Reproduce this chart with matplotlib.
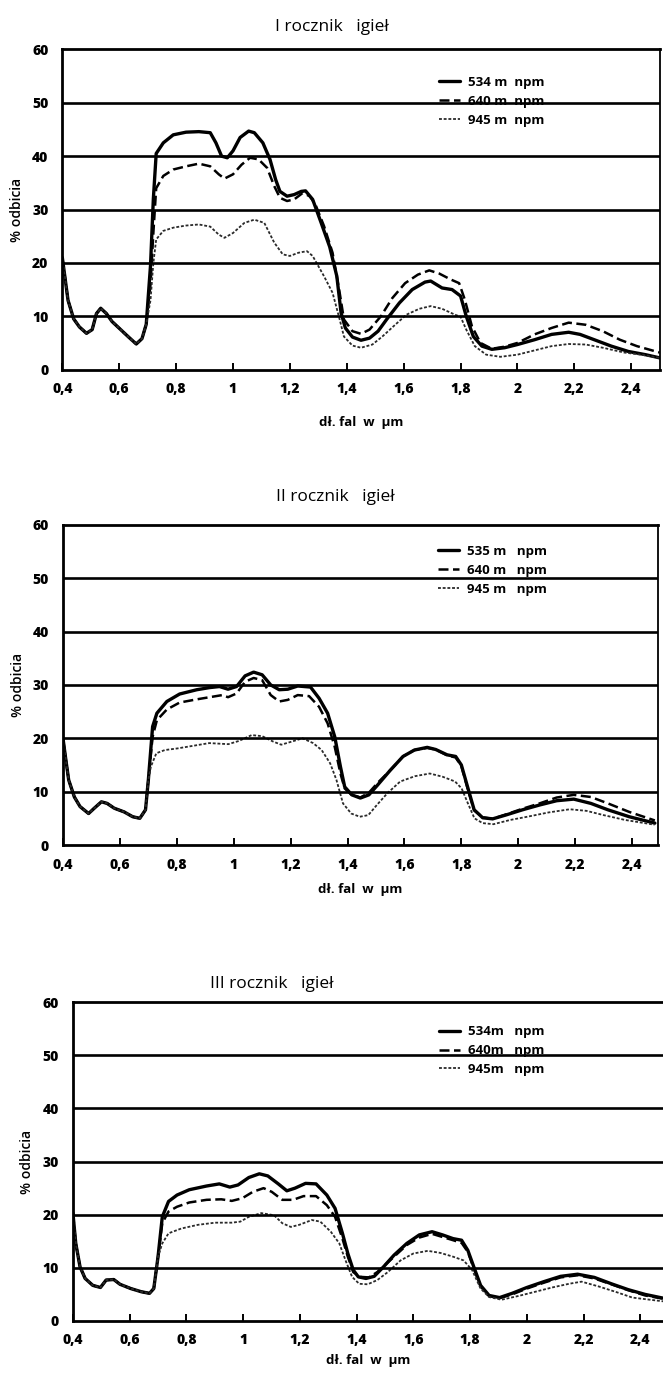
import numpy as np
import matplotlib.pyplot as plt

plt.rcParams['font.family'] = ['Open Sans', 'DejaVu Sans']

xticks = [0.4, 0.6, 0.8, 1.0, 1.2, 1.4, 1.6, 1.8, 2.0, 2.2, 2.4]
xticklabels = ['0,4', '0,6', '0,8', '1', '1,2', '1,4', '1,6', '1,8', '2', '2,2', '2,4']
yticks = [0, 10, 20, 30, 40, 50, 60]

# ---- I rocznik igiel ----
low1_w = [0.40, 0.42, 0.44, 0.46, 0.485, 0.505, 0.52, 0.535, 0.555, 0.575, 0.605, 0.635, 0.66, 0.68, 0.695]
low1_r = [21.0, 13.0, 9.5, 8.0, 6.8, 7.5, 10.5, 11.5, 10.5, 9.0, 7.5, 6.0, 4.8, 5.8, 8.5]

w1_534 = [0.71, 0.72, 0.73, 0.755, 0.79, 0.835, 0.88, 0.92, 0.94, 0.96, 0.98, 1.00, 1.025, 1.055,
          1.075, 1.105, 1.13, 1.15, 1.165, 1.19, 1.215, 1.24, 1.255, 1.28, 1.31, 1.34, 1.365, 1.38,
          1.395, 1.42, 1.45, 1.48, 1.51, 1.54, 1.585, 1.63, 1.675, 1.695, 1.735, 1.77, 1.80, 1.82,
          1.845, 1.875, 1.91, 1.955, 2.00, 2.06, 2.12, 2.18, 2.22, 2.27, 2.33, 2.39, 2.45, 2.50]
r1_534 = [19.5, 32.0, 40.5, 42.5, 44.0, 44.5, 44.6, 44.4, 42.5, 40.0, 39.7, 41.0, 43.5, 44.7,
          44.4, 42.5, 39.4, 35.6, 33.4, 32.5, 32.8, 33.4, 33.5, 31.9, 27.5, 23.0, 17.5, 10.6,
          7.8, 6.1, 5.5, 5.9, 7.2, 9.4, 12.5, 15.0, 16.4, 16.6, 15.3, 15.0, 13.8, 10.0,
          6.2, 4.4, 3.8, 4.1, 4.7, 5.6, 6.6, 7.0, 6.6, 5.6, 4.4, 3.4, 2.8, 2.2]

w1_640 = [0.71, 0.72, 0.73, 0.755, 0.79, 0.835, 0.88, 0.92, 0.95, 0.97, 1.00, 1.03, 1.06, 1.09,
          1.12, 1.145, 1.165, 1.19, 1.215, 1.245, 1.27, 1.29, 1.32, 1.35, 1.375, 1.39, 1.42, 1.45,
          1.48, 1.52, 1.56, 1.605, 1.65, 1.69, 1.725, 1.765, 1.795, 1.815, 1.84, 1.87, 1.91, 1.955,
          2.00, 2.06, 2.12, 2.18, 2.24, 2.30, 2.36, 2.42, 2.50]
r1_640 = [16.0, 25.6, 34.0, 36.3, 37.5, 38.1, 38.6, 38.1, 36.6, 35.8, 36.6, 38.4, 39.7, 39.4,
          37.8, 34.4, 32.2, 31.6, 31.9, 33.1, 32.5, 30.9, 26.9, 21.9, 14.4, 9.4, 7.2, 6.7,
          7.5, 10.0, 13.4, 16.2, 17.8, 18.6, 18.0, 16.9, 16.2, 13.1, 8.1, 5.0, 3.9, 4.3,
          5.0, 6.6, 7.8, 8.8, 8.4, 7.2, 5.6, 4.4, 3.2]

w1_945 = [0.71, 0.72, 0.73, 0.755, 0.79, 0.835, 0.88, 0.92, 0.95, 0.97, 1.00, 1.04, 1.075, 1.11,
          1.145, 1.175, 1.20, 1.23, 1.26, 1.28, 1.32, 1.35, 1.375, 1.39, 1.42, 1.45, 1.49, 1.525,
          1.57, 1.61, 1.655, 1.695, 1.735, 1.78, 1.80, 1.82, 1.85, 1.89, 1.94, 2.00, 2.06, 2.12,
          2.18, 2.24, 2.30, 2.375, 2.435, 2.50]
r1_945 = [13.0, 20.0, 24.4, 26.0, 26.6, 27.0, 27.2, 26.8, 25.3, 24.7, 25.6, 27.5, 28.1, 27.5,
          23.8, 21.6, 21.3, 21.9, 22.2, 21.3, 17.5, 14.4, 9.4, 6.2, 4.5, 4.1, 4.7, 6.2,
          8.4, 10.3, 11.4, 11.9, 11.4, 10.3, 9.9, 7.5, 4.4, 2.8, 2.4, 2.8, 3.6, 4.4,
          4.8, 4.7, 4.1, 3.2, 2.8, 2.2]

# ---- II rocznik igiel ----
low2_w = [0.40, 0.41, 0.42, 0.44, 0.46, 0.49, 0.51, 0.535, 0.555, 0.58, 0.615, 0.645, 0.67, 0.69, 0.70]
low2_r = [20.0, 16.0, 12.2, 9.0, 7.2, 5.9, 6.9, 8.1, 7.8, 6.9, 6.2, 5.3, 5.0, 6.6, 12.2]

w2_535 = [0.715, 0.73, 0.765, 0.81, 0.87, 0.915, 0.95, 0.98, 1.01, 1.04, 1.07, 1.10, 1.13, 1.16,
          1.19, 1.225, 1.27, 1.30, 1.33, 1.355, 1.375, 1.39, 1.415, 1.445, 1.475, 1.505, 1.55,
          1.595, 1.635, 1.68, 1.71, 1.75, 1.78, 1.80, 1.825, 1.845, 1.875, 1.91, 1.955, 2.015,
          2.075, 2.135, 2.195, 2.255, 2.315, 2.39, 2.48]
r2_535 = [22.2, 24.7, 26.9, 28.3, 29.1, 29.5, 29.7, 29.2, 29.7, 31.7, 32.4, 31.9, 30.0, 29.1,
          29.2, 29.8, 29.6, 27.5, 24.7, 20.3, 14.7, 10.9, 9.4, 8.8, 9.4, 11.2, 14.0,
          16.6, 17.8, 18.3, 17.9, 16.9, 16.6, 15.0, 10.3, 6.6, 5.1, 4.9, 5.6, 6.6,
          7.5, 8.3, 8.6, 7.8, 6.6, 5.3, 4.1]

w2_640 = [0.715, 0.73, 0.765, 0.81, 0.87, 0.915, 0.96, 0.98, 1.01, 1.04, 1.07, 1.10, 1.13, 1.16,
          1.19, 1.225, 1.265, 1.30, 1.33, 1.355, 1.375, 1.39, 1.415, 1.445, 1.475, 1.505, 1.55,
          1.595, 1.635, 1.68, 1.71, 1.75, 1.78, 1.80, 1.825, 1.845, 1.875, 1.91, 1.955, 2.015,
          2.075, 2.135, 2.195, 2.255, 2.315, 2.39, 2.48]
r2_640 = [20.3, 23.4, 25.4, 26.7, 27.3, 27.7, 28.1, 27.7, 28.4, 30.6, 31.3, 30.9, 28.1, 26.9,
          27.2, 28.1, 27.9, 25.9, 22.8, 18.4, 13.4, 10.6, 9.4, 8.9, 9.8, 11.6, 14.0,
          16.6, 17.8, 18.2, 17.9, 16.8, 16.4, 14.8, 10.0, 6.5, 5.2, 4.9, 5.7, 6.8,
          7.8, 8.9, 9.4, 9.0, 7.8, 6.2, 4.6]

w2_945 = [0.709, 0.728, 0.758, 0.802, 0.914, 0.981, 1.018, 1.063, 1.10, 1.138, 1.167, 1.205, 1.242,
          1.279, 1.309, 1.339, 1.361, 1.384, 1.413, 1.443, 1.473, 1.503, 1.54, 1.585, 1.637, 1.689,
          1.734, 1.778, 1.801, 1.823, 1.846, 1.875, 1.913, 1.972, 2.032, 2.106, 2.181, 2.24, 2.30,
          2.375, 2.479]
r2_945 = [14.7, 17.2, 17.8, 18.1, 19.1, 18.9, 19.5, 20.6, 20.4, 19.4, 18.8, 19.4, 20.0,
          19.1, 17.8, 15.3, 12.2, 7.8, 5.9, 5.3, 5.6, 7.5, 9.7, 11.9, 12.9, 13.4,
          12.8, 11.9, 10.6, 7.8, 5.0, 4.1, 3.9, 4.7, 5.3, 6.1, 6.7, 6.4, 5.6,
          4.7, 3.8]

# ---- III rocznik igiel ----
low3_w = [0.40, 0.41, 0.425, 0.443, 0.47, 0.497, 0.517, 0.544, 0.566, 0.604, 0.641, 0.67, 0.685, 0.70]
low3_r = [20.3, 14.6, 10.2, 8.0, 6.7, 6.3, 7.7, 7.8, 6.9, 6.1, 5.5, 5.2, 6.1, 12.1]

w3_534 = [0.715, 0.737, 0.767, 0.81, 0.871, 0.916, 0.953, 0.982, 1.02, 1.057, 1.087, 1.124, 1.154,
          1.183, 1.22, 1.257, 1.295, 1.324, 1.35, 1.369, 1.388, 1.406, 1.433, 1.462, 1.495, 1.532,
          1.577, 1.621, 1.666, 1.703, 1.74, 1.77, 1.792, 1.815, 1.837, 1.867, 1.904, 1.948, 2.00,
          2.06, 2.119, 2.179, 2.238, 2.298, 2.357, 2.417, 2.48]
r3_534 = [19.6, 22.5, 23.7, 24.7, 25.4, 25.8, 25.2, 25.6, 27.0, 27.7, 27.3, 25.8, 24.5,
          25.0, 25.9, 25.8, 23.7, 21.2, 16.5, 12.7, 9.6, 8.3, 8.0, 8.4, 10.2, 12.4,
          14.6, 16.2, 16.8, 16.2, 15.5, 15.2, 13.3, 9.9, 6.7, 4.8, 4.4, 5.2, 6.3,
          7.4, 8.4, 8.8, 8.2, 7.0, 5.9, 5.0, 4.3]

w3_640 = [0.715, 0.737, 0.767, 0.81, 0.871, 0.923, 0.96, 0.997, 1.034, 1.072, 1.101, 1.138, 1.176,
          1.213, 1.257, 1.295, 1.324, 1.35, 1.369, 1.388, 1.413, 1.443, 1.473, 1.532, 1.577, 1.621,
          1.666, 1.703, 1.74, 1.77, 1.792, 1.815, 1.837, 1.867, 1.904, 1.948, 2.00, 2.06, 2.119,
          2.179, 2.238, 2.298, 2.357, 2.417, 2.48]
r3_640 = [18.4, 20.6, 21.5, 22.3, 22.8, 22.9, 22.6, 23.1, 24.3, 25.0, 24.3, 22.8, 22.8,
          23.5, 23.5, 21.8, 19.6, 15.5, 12.1, 9.2, 8.3, 8.2, 9.2, 12.1, 14.3, 15.7,
          16.4, 15.8, 15.2, 14.7, 13.0, 9.6, 6.5, 4.7, 4.3, 5.0, 6.1, 7.2, 8.2,
          8.6, 8.0, 6.9, 5.8, 4.8, 4.2]

w3_945 = [0.715, 0.737, 0.782, 0.841, 0.901, 0.96, 0.99, 1.02, 1.064, 1.109, 1.138, 1.168, 1.198,
          1.242, 1.272, 1.309, 1.339, 1.361, 1.384, 1.409, 1.439, 1.473, 1.51, 1.555, 1.60, 1.651,
          1.696, 1.74, 1.777, 1.807, 1.837, 1.867, 1.911, 1.97, 2.03, 2.089, 2.149, 2.193, 2.253,
          2.312, 2.372, 2.48]
r3_945 = [14.6, 16.5, 17.4, 18.1, 18.5, 18.5, 18.7, 19.6, 20.3, 19.9, 18.4, 17.7, 18.1,
          19.0, 18.7, 16.8, 14.6, 11.4, 8.3, 7.0, 6.9, 7.7, 9.2, 11.4, 12.7, 13.2,
          12.8, 12.1, 11.4, 9.6, 6.1, 4.5, 4.0, 4.7, 5.5, 6.3, 7.0, 7.4, 6.5,
          5.5, 4.4, 3.7]

panels = [
    dict(title='I rocznik   igieł', tx=0.50, ty=0.980, rect=[0.094, 0.731, 0.901, 0.233],
         xmax=2.5, labels=['534 m  npm', '640 m  npm', '945 m  npm'], leg=(0.61, 0.955),
         low=(low1_w, low1_r), xlpad=14,
         curves=[(w1_534, r1_534), (w1_640, r1_640), (w1_945, r1_945)]),
    dict(title='II rocznik   igieł', tx=0.505, ty=0.638, rect=[0.095, 0.385, 0.897, 0.233],
         xmax=2.49, labels=['535 m   npm', '640 m   npm', '945 m   npm'], leg=(0.61, 0.975),
         low=(low2_w, low2_r), xlpad=8,
         curves=[(w2_535, r2_535), (w2_640, r2_640), (w2_945, r2_945)]),
    dict(title='III rocznik   igieł', tx=0.41, ty=0.284, rect=[0.110, 0.0386, 0.89, 0.232],
         xmax=2.48, labels=['534m   npm', '640m   npm', '945m   npm'], leg=(0.60, 0.965),
         low=(low3_w, low3_r), xlpad=5,
         curves=[(w3_534, r3_534), (w3_640, r3_640), (w3_945, r3_945)]),
]

styles = [dict(color='black', lw=2.4, ls='-'),
          dict(color='black', lw=1.8, ls=(0, (4, 1.8))),
          dict(color='#2a2a2a', lw=1.3, ls=(0, (1.6, 1.0)))]

fig = plt.figure(figsize=(6.63, 13.74), dpi=100)

for p in panels:
    ax = fig.add_axes(p['rect'])
    lw_, lr_ = p['low']
    for (w, r), st, lab in zip(p['curves'], styles, p['labels']):
        ax.plot(lw_ + w, lr_ + r, label=lab, solid_capstyle='round', **st)
    ax.set_xlim(0.4, p['xmax'])
    ax.set_ylim(0, 60)
    ax.set_xticks(xticks)
    ax.set_xticklabels(xticklabels, fontsize=10, fontweight='heavy')
    ax.set_yticks(yticks)
    ax.set_yticklabels([str(v) for v in yticks], fontsize=10, fontweight='heavy')
    ax.tick_params(axis='x', direction='in', length=5, width=1.4, pad=9)
    ax.tick_params(axis='y', length=0, pad=10)
    for v in yticks[1:-1]:
        ax.axhline(v, color='black', lw=1.9)
    for s in ['left', 'bottom', 'top']:
        ax.spines[s].set_linewidth(2.0)
    ax.spines['right'].set_linewidth(1.3)
    if p['xmax'] < 2.485:
        ax.spines['right'].set_visible(False)
    ax.set_xlabel('dł. fal  w  µm', fontsize=9.5, fontweight='bold', labelpad=p['xlpad'])
    ax.set_ylabel('% odbicia', fontsize=10, fontweight='semibold', labelpad=6)
    ax.legend(loc='upper left', bbox_to_anchor=p['leg'], frameon=False,
              handlelength=1.6, handletextpad=0.6, labelspacing=0.45,
              prop=dict(size=9.5, weight='bold'))
    fig.text(p['tx'], p['ty'], p['title'], ha='center', va='center', fontsize=12.5)

fig.savefig('out.png', dpi=100, facecolor='white')
